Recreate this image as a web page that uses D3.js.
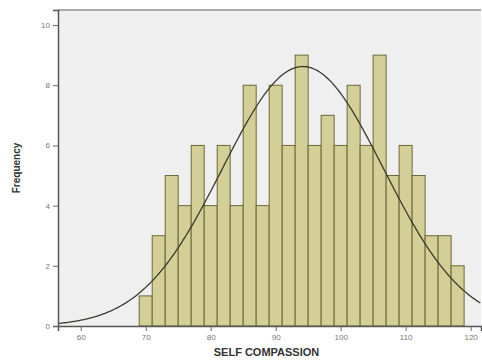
<!doctype html>
<html>
<head>
<meta charset="utf-8" />
<script src="https://cdn.jsdelivr.net/npm/d3@7"></script>
<style>
  html, body { margin: 0; padding: 0; background: #fff; overflow: hidden; }
</style>
</head>
<body>
<script>
// bin lower edges (width 2) and counts
const binStarts = [69, 71, 73, 75, 77, 79, 81, 83, 85, 87, 89, 91, 93, 95, 97, 99, 101, 103, 105, 107, 109, 111, 113, 115, 117];
const counts    = [1, 3, 5, 4, 6, 4, 6, 4, 8, 4, 8, 6, 9, 6, 7, 6, 8, 6, 9, 5, 6, 5, 3, 3, 2];
const binWidth = 2;
const xTicks = [60, 70, 80, 90, 100, 110, 120];
const yTicks = [0, 2, 4, 6, 8, 10];
// fitted normal curve parameters (estimated)
const fitMean = 94.2, fitSd = 12.4;

const W = 482, H = 362;
const plot = { left: 58, top: 10, right: 481, bottom: 326 };

const x = d3.scaleLinear().domain([56.5, 121.6]).range([plot.left, plot.right]);
const y = d3.scaleLinear().domain([0, 10.5]).range([plot.bottom, plot.top]);

const svg = d3.select("body").append("svg")
  .attr("width", W).attr("height", H)
  .style("font-family", "Arial, 'Liberation Sans', sans-serif");

svg.append("rect")
  .attr("x", plot.left).attr("y", plot.top)
  .attr("width", plot.right - plot.left).attr("height", plot.bottom - plot.top)
  .attr("fill", "#efefef");

svg.append("line")
  .attr("x1", plot.left).attr("x2", plot.right)
  .attr("y1", plot.top).attr("y2", plot.top)
  .attr("stroke", "#a8a8a8").attr("stroke-width", 2);

const bins = binStarts.map((s, i) => ({ x0: s, x1: s + binWidth, n: counts[i] }));

svg.append("g").selectAll("rect")
  .data(bins)
  .join("rect")
  .attr("x", d => x(d.x0))
  .attr("y", d => y(d.n))
  .attr("width", d => x(d.x1) - x(d.x0))
  .attr("height", d => y(0) - y(d.n))
  .attr("fill", "#d4cf97")
  .attr("stroke", "#6b6838")
  .attr("stroke-width", 1);

// normal curve scaled to counts
const N = d3.sum(counts);
const curvePts = d3.range(56.5, 121.6, 0.25).map(v => {
  const z = (v - fitMean) / fitSd;
  return [v, N * binWidth / (fitSd * Math.sqrt(2 * Math.PI)) * Math.exp(-0.5 * z * z)];
});
svg.append("path")
  .datum(curvePts)
  .attr("fill", "none")
  .attr("stroke", "#3a3a2e")
  .attr("stroke-width", 1.3)
  .attr("d", d3.line().x(d => x(d[0])).y(d => y(d[1])));

// axes
const xAxis = svg.append("g")
  .attr("transform", `translate(0,${plot.bottom})`)
  .call(d3.axisBottom(x).tickValues(xTicks).tickSize(5).tickPadding(3));
const yAxis = svg.append("g")
  .attr("transform", `translate(${plot.left},0)`)
  .call(d3.axisLeft(y).tickValues(yTicks).tickSize(5).tickPadding(3));

[xAxis, yAxis].forEach(g => {
  g.select(".domain").attr("stroke", "#555").attr("stroke-width", 1.5);
  g.selectAll(".tick line").attr("stroke", "#666");
  g.selectAll(".tick text").attr("fill", "#777").style("font-size", "8px");
});

svg.append("text")
  .attr("x", (plot.left + plot.right) / 2 - 3)
  .attr("y", 356)
  .attr("text-anchor", "middle")
  .attr("font-weight", "bold")
  .attr("font-size", 11)
  .attr("fill", "#333")
  .text("SELF COMPASSION");

svg.append("text")
  .attr("transform", `translate(20,${(plot.top + plot.bottom) / 2}) rotate(-90)`)
  .attr("text-anchor", "middle")
  .attr("font-weight", "bold")
  .attr("font-size", 10)
  .attr("fill", "#333")
  .text("Frequency");
</script>
</body>
</html>
